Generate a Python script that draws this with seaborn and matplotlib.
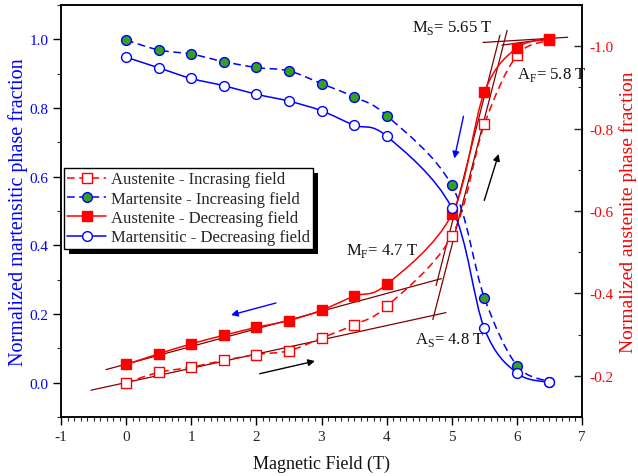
import numpy as np
import pandas as pd
import matplotlib
matplotlib.use('Agg')
import matplotlib.pyplot as plt
from matplotlib.path import Path
from matplotlib.patches import PathPatch, Rectangle
from matplotlib.lines import Line2D
from matplotlib.ticker import MultipleLocator, FormatStrFormatter
import seaborn as sns

# magnetic field (T)
field = [0, 0.5, 1, 1.5, 2, 2.5, 3, 3.5, 4, 5, 5.5, 6, 6.5]

# normalized phase fractions
aus_inc = [0.000, 0.030, 0.045, 0.065, 0.082, 0.093, 0.130, 0.169, 0.222, 0.427, 0.752, 0.953, 0.997]
mart_inc = [0.998, 0.969, 0.957, 0.935, 0.918, 0.908, 0.871, 0.832, 0.778, 0.575, 0.248, 0.050, 0.003]
aus_dec = [0.053, 0.084, 0.113, 0.138, 0.161, 0.181, 0.211, 0.252, 0.286, 0.490, 0.846, 0.975, 1.000]
mart_dec = [0.948, 0.917, 0.886, 0.865, 0.840, 0.820, 0.792, 0.750, 0.718, 0.509, 0.158, 0.028, 0.001]

labels = ['Austenite - Incrasing field', 'Martensite - Increasing field',
          'Austenite - Decreasing field', 'Martensitic - Decreasing field']

# construction (tangent) lines: start and end points
tan_x0 = [-0.54, -0.31, 4.71, 4.76, 5.48, 5.77]
tan_y0 = [-0.022, 0.038, 0.184, 0.283, 0.991, 0.983]
tan_x1 = [4.91, 4.84, 5.85, 5.74, 6.78, 6.54]
tan_y1 = [0.204, 0.303, 1.026, 1.012, 1.006, 1.003]

# transition temperatures text
notes = ['M$_\\mathrm{S}$= 5.65 T', 'A$_\\mathrm{F}$= 5.8 T', 'M$_\\mathrm{F}$= 4.7 T', 'A$_\\mathrm{S}$= 4.8 T']
note_x = [4.39, 6.0, 3.38, 4.43]
note_y = [1.035, 0.90, 0.386, 0.128]

# arrows: tail -> head
arrow_tail = [(5.18, 0.776), (5.50, 0.531), (2.30, 0.232), (2.05, 0.026)]
arrow_head = [(5.04, 0.653), (5.72, 0.666), (1.61, 0.197), (2.90, 0.063)]
arrow_col = ['blue', 'black', 'blue', 'black']


def spline_path(x, y):
    # smooth line through the points (Catmull-Rom as Bezier segments)
    p = np.column_stack([x, y]).astype(float)
    ext = np.vstack([p[0], p, p[-1]])
    verts = [p[0]]
    codes = [Path.MOVETO]
    for i in range(len(p) - 1):
        p0, p1, p2, p3 = ext[i], ext[i + 1], ext[i + 2], ext[i + 3]
        verts += [p1 + (p2 - p0) / 6, p2 - (p3 - p1) / 6, p2]
        codes += [Path.CURVE4] * 3
    return Path(verts, codes)


sns.set_theme(style='ticks')
plt.rcParams['font.family'] = ['Liberation Serif', 'DejaVu Serif']
plt.rcParams['mathtext.fontset'] = 'custom'
plt.rcParams['mathtext.rm'] = 'Liberation Serif'
plt.rcParams['axes.unicode_minus'] = False

fig = plt.figure(figsize=(6.38, 4.77), dpi=100)
ax = fig.add_axes([61 / 638, 59 / 477, 521 / 638, 412 / 477])

df = pd.DataFrame({'field': field, 'aus_inc': aus_inc, 'mart_inc': mart_inc,
                   'aus_dec': aus_dec, 'mart_dec': mart_dec})

green = '#33a11c'
series = [
    ('aus_inc', 'red', (0, (5, 3)), 's', 'white', 'red'),
    ('mart_inc', 'blue', (0, (5, 3)), 'o', green, 'blue'),
    ('aus_dec', 'red', '-', 's', 'red', 'red'),
    ('mart_dec', 'blue', '-', 'o', 'white', 'blue'),
]

# construction lines
for x0, y0, x1, y1 in zip(tan_x0, tan_y0, tan_x1, tan_y1):
    ax.plot([x0, x1], [y0, y1], color='#800000', lw=0.9, zorder=1.5)

handles = []
for i, (col, lc, ls, mk, fc, ec) in enumerate(series):
    patch = PathPatch(spline_path(df['field'], df[col]), facecolor='none',
                      edgecolor=lc, lw=1.1, linestyle=ls, zorder=2 + i * 0.1)
    ax.add_patch(patch)
    sns.scatterplot(data=df, x='field', y=col, marker=mk, s=50, color=fc,
                    edgecolor=ec, linewidth=1.0, ax=ax, zorder=3 + i * 0.1)
    handles.append(Line2D([], [], color=lc, linestyle=ls, lw=1.1, marker=mk,
                          markersize=7, markerfacecolor=fc, markeredgecolor=ec))

for t, x, y in zip(notes, note_x, note_y):
    ax.text(x, y, t, fontsize=12, ha='left', va='center', color='#111111')

for tail, head, c in zip(arrow_tail, arrow_head, arrow_col):
    ax.annotate('', xy=head, xytext=tail,
                arrowprops=dict(arrowstyle='-|>', color=c, lw=1.0,
                                mutation_scale=10, shrinkA=0, shrinkB=0))

ax.set_xlim(-1, 7)
ax.set_ylim(-0.1, 1.1)
ax.xaxis.set_major_locator(MultipleLocator(1))
ax.xaxis.set_minor_locator(MultipleLocator(0.1))
ax.xaxis.set_major_formatter(FormatStrFormatter('%d'))
ax.yaxis.set_major_locator(MultipleLocator(0.2))
ax.yaxis.set_minor_locator(MultipleLocator(0.1))
ax.yaxis.set_major_formatter(FormatStrFormatter('%.1f'))
ax.tick_params(axis='both', which='major', direction='out', length=5.5, width=1.0,
               labelsize=11, color='black')
ax.tick_params(axis='both', which='minor', direction='out', length=3, width=0.8)
ax.tick_params(axis='y', labelcolor='blue', right=False)
ax.tick_params(axis='x', pad=4)
ax.set_xlabel('Magnetic Field (T)', fontsize=13, labelpad=8, color='#111111')
ax.set_ylabel('Normalized martensitic phase fraction', fontsize=14.5,
              color='blue', labelpad=1)
for sp in ax.spines.values():
    sp.set_linewidth(1.1)
    sp.set_color('black')
    sp.set_visible(True)

ax2 = ax.twinx()
ax2.set_ylim(-0.1, -1.1)
ax2.yaxis.set_major_locator(MultipleLocator(0.2))
ax2.yaxis.set_minor_locator(MultipleLocator(0.1))
ax2.yaxis.set_major_formatter(FormatStrFormatter('%.1f'))
ax2.tick_params(axis='y', which='major', direction='in', length=5.5, width=1.0,
                labelsize=11, labelcolor='red', pad=5)
ax2.tick_params(axis='y', which='minor', direction='in', length=3, width=0.8)
ax2.set_ylabel('Normalized austenite phase fraction', fontsize=14,
               color='red', rotation=90, labelpad=4.5)
for sp in ax2.spines.values():
    sp.set_linewidth(1.1)
    sp.set_color('black')

leg = ax.legend(handles, labels, loc='upper left', bbox_to_anchor=(0.006, 0.604),
                borderaxespad=0, fontsize=12, frameon=True, fancybox=False,
                framealpha=1, edgecolor='black', handlelength=2.3,
                handletextpad=0.3, labelspacing=0.2, borderpad=0.2)
leg.get_frame().set_linewidth(1.0)
leg.set_zorder(10)

# black drop shadow behind the legend
fig.canvas.draw()
bb = leg.get_window_extent().transformed(ax.transAxes.inverted())
ax.add_patch(Rectangle((bb.x0 + 5 / 521, bb.y0 - 5 / 412), bb.width, bb.height,
                       transform=ax.transAxes, facecolor='black', edgecolor='none',
                       zorder=9, clip_on=False))

fig.savefig('out.png', dpi=100)
